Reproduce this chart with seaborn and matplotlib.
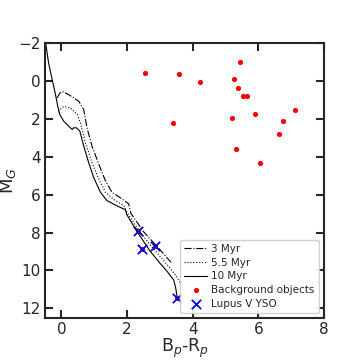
import numpy as np
import pandas as pd
import matplotlib
matplotlib.use("Agg")
import matplotlib.pyplot as plt
import seaborn as sns

sns.set_style("ticks")
plt.rcParams["font.family"] = ["DejaVu Sans"]

# Isochrones (Bp-Rp, M_G)
iso3_x = [-0.13, -0.05, 0.02, 0.22, 0.53, 0.68, 0.78, 0.93, 1.14, 1.34, 1.54, 1.85, 2.05,
          2.12, 2.50, 3.00, 3.37]
iso3_y = [0.91, 0.65, 0.56, 0.73, 1.08, 1.52, 2.48, 3.44, 4.40, 5.27, 5.88, 6.23, 6.49,
          7.00, 7.95, 8.90, 9.63]

iso55_x = [-0.10, 0.07, 0.27, 0.48, 0.58, 0.73, 0.93, 1.14, 1.34, 1.64, 1.90, 2.02,
           2.40, 2.90, 3.30, 3.50, 3.67]
iso55_y = [1.60, 1.35, 1.43, 1.78, 2.22, 3.26, 4.31, 5.18, 5.88, 6.32, 6.58, 7.00,
           8.00, 9.05, 9.85, 10.30, 10.80]

iso10_x = [-0.48, -0.39, -0.28, -0.18, -0.11, -0.05, 0.07, 0.22, 0.33, 0.37, 0.46, 0.56,
           0.68, 0.83, 0.98, 1.19, 1.39, 1.70, 1.95, 1.99, 2.31, 2.71, 3.02, 3.22, 3.42,
           3.48, 3.52]
iso10_y = [-2.00, -0.93, -0.05, 0.73, 1.35, 1.78, 2.13, 2.39, 2.57, 2.48, 2.48, 2.65,
           3.44, 4.31, 5.09, 5.88, 6.32, 6.60, 6.80, 7.05, 7.97, 9.00, 9.65, 10.05, 10.50,
           10.90, 11.35]

# Background objects
bg_x = [2.54, 3.59, 3.39, 4.21, 5.43, 5.26, 5.38, 5.52, 5.66, 7.11, 5.90, 5.19, 6.74,
        6.64, 5.32, 6.06]
bg_y = [-0.40, -0.35, 2.22, 0.05, -0.98, -0.07, 0.37, 0.79, 0.79, 1.54, 1.76, 1.97,
        2.11, 2.81, 3.61, 4.36]

# Lupus V YSOs
yso_x = [2.32, 2.46, 2.86, 3.52]
yso_y = [7.92, 8.88, 8.70, 11.47]

fig = plt.figure(figsize=(3.6, 3.6), dpi=100)
ax = fig.add_axes([0.125, 0.117, 0.775, 0.764])

sns.lineplot(x=iso3_x, y=iso3_y, sort=False, estimator=None, color="k",
             linestyle="-.", lw=0.8, label="3 Myr", ax=ax)
sns.lineplot(x=iso55_x, y=iso55_y, sort=False, estimator=None, color="k",
             linestyle=":", lw=0.8, label="5.5 Myr", ax=ax)
sns.lineplot(x=iso10_x, y=iso10_y, sort=False, estimator=None, color="k",
             linestyle="-", lw=0.8, label="10 Myr", ax=ax)
sns.scatterplot(x=bg_x, y=bg_y, color="red", s=14, linewidth=0,
                label="Background objects", ax=ax)
sns.scatterplot(x=yso_x, y=yso_y, color="red", s=14, linewidth=0, ax=ax)
sns.scatterplot(x=yso_x, y=yso_y, color="blue", marker="x", s=45, linewidth=1.3,
                label="Lupus V YSO", ax=ax)

ax.set_xlim(-0.5, 8)
ax.set_ylim(12.5, -2)
ax.set_xticks([0, 2, 4, 6, 8])
ax.set_yticks([-2, 0, 2, 4, 6, 8, 10, 12])
ax.tick_params(direction="in", length=6, width=1.5, labelsize=11,
               top=True, right=True, pad=3)
for sp in ax.spines.values():
    sp.set_linewidth(1.5)

ax.set_xlabel("B$_p$-R$_p$", fontsize=12.5, labelpad=0)
ax.set_ylabel("M$_G$", fontsize=13, labelpad=0)

ax.legend(loc="lower right", fontsize=7.5, handlelength=2.2, handletextpad=0.4,
          borderpad=0.4, labelspacing=0.35, framealpha=0.9)

fig.savefig("out.png", dpi=100)
